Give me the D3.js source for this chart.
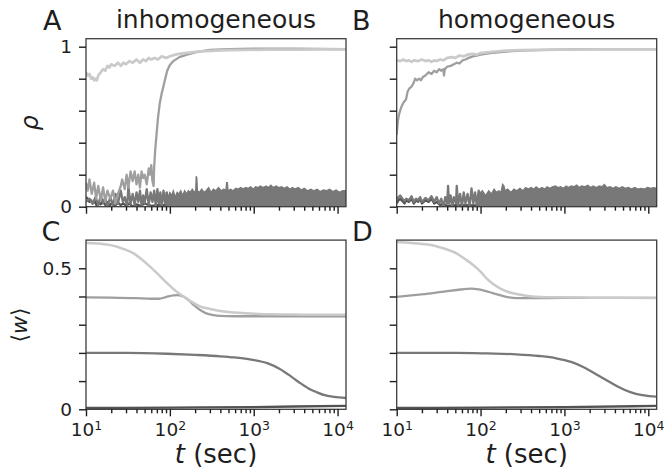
<!DOCTYPE html>
<html>
<head>
<meta charset="utf-8">
<script src="https://cdn.jsdelivr.net/npm/d3@7"></script>
<style>
  body { margin: 0; background: #fff; }
  svg { font-family: "DejaVu Sans", sans-serif; }
</style>
</head>
<body>
<div id="chart"></div>
<script>
// ---- data: [t (sec), value] ----

// rho, inhomogeneous
var rhoA_light = [[10,0.84],[10.5,0.82],[11,0.83],[11.5,0.80],[12,0.81],[12.5,0.79],[13,0.80],[13.5,0.79],[14,0.82],[15,0.84],[16,0.86],[17,0.85],[18,0.88],[19,0.87],[20,0.89],[22,0.88],[24,0.90],[26,0.88],[28,0.90],[30,0.89],[33,0.91],[36,0.90],[40,0.92],[44,0.90],[48,0.92],[52,0.91],[56,0.93],[60,0.92],[66,0.93],[72,0.92],[80,0.94],[90,0.93],[100,0.94],[115,0.95],[130,0.955],[150,0.96],[180,0.965],[220,0.97],[270,0.972],[350,0.975],[500,0.978],[800,0.98],[1500,0.982],[3000,0.982],[6000,0.983],[12600,0.983]];
var rhoA_mid = [[10,0.15],[10.5,0.1],[11,0.17],[11.7,0.08],[12.5,0.15],[13.2,0.05],[14,0.13],[15,0.04],[16,0.12],[17,0.03],[18,0.1],[19.5,0.05],[21,0.1],[22.5,0.02],[24,0.08],[26,0.13],[27,0.17],[29,0.11],[30.5,0.2],[32,0.12],[34,0.22],[36,0.16],[38,0.22],[40,0.14],[42,0.2],[44,0.12],[46,0.22],[48,0.18],[50,0.2],[53,0.14],[56,0.24],[58,0.2],[60,0.26],[62,0.16],[64,0.13],[65,0.25],[67,0.36],[69.6,0.46],[72,0.55],[76,0.65],[80,0.71],[83.6,0.75],[88,0.8],[93,0.85],[100,0.885],[110,0.91],[130,0.935],[160,0.95],[200,0.965],[300,0.98],[500,0.985],[1000,0.988],[3000,0.988],[12600,0.985]];
var rhoA_dark = [[10,0.03],[11,0.05],[12,0.02],[13,0.06],[14,0.01],[15,0.07],[16,0.02],[17,0.05],[18,0.0],[19.5,0.06],[21,0.01],[22.5,0.08],[24,0.02],[26,0.1],[27.5,0.03],[29,0.06],[31,0.0],[32,0.125],[34,0.02],[36,0.08],[38,0.01],[40,0.09],[42,0.03],[44,0.1],[46,0.0],[48,0.07],[50,0.02],[53,0.11],[56,0.01],[59,0.09],[62,0.03],[65,0.1],[68,0.0],[71,0.11],[74,0.02],[77,0.09],[80,0.0],[84,0.1],[88,0.02],[92,0.09],[96,0.0]];
var rhoA_band = [[90,0.08],[95,0.06],[100,0.09],[105,0.07],[110,0.1],[116,0.06],[122,0.09],[128,0.08],[135,0.1],[142,0.07],[150,0.1],[158,0.08],[166,0.1],[175,0.09],[185,0.11],[195,0.09],[203,0.1],[206,0.19],[210,0.18],[213,0.1],[225,0.09],[240,0.11],[255,0.09],[270,0.1],[290,0.12],[310,0.09],[330,0.11],[355,0.1],[380,0.12],[410,0.1],[440,0.11],[465,0.1],[475,0.15],[485,0.15],[495,0.1],[530,0.11],[570,0.1],[610,0.115],[650,0.11],[700,0.12],[750,0.11],[800,0.12],[860,0.115],[920,0.125],[990,0.11],[1050,0.125],[1130,0.12],[1200,0.13],[1300,0.12],[1400,0.13],[1500,0.12],[1600,0.135],[1700,0.12],[1850,0.13],[2000,0.12],[2150,0.125],[2300,0.115],[2500,0.125],[2700,0.11],[2900,0.12],[3100,0.11],[3400,0.12],[3700,0.105],[4000,0.115],[4400,0.1],[4800,0.11],[5200,0.1],[5700,0.11],[6200,0.095],[6800,0.105],[7400,0.1],[8000,0.11],[8800,0.095],[9600,0.105],[10500,0.09],[11500,0.1],[12600,0.1]];
var rhoA_darkest = [[10,0.06],[10.5,0.05],[11,0.03],[11.5,0.04],[12,0.02],[12.7,0.035],[13.3,0.01],[14,0.03],[15,0.015],[16,0.04],[17,0.01],[18,0.03],[19,0.005],[20,0.02],[22,0.005],[24,0.025],[26,0.01],[28,0.02],[30,0.005],[33,0.02],[36,0.0],[40,0.015],[45,0.005],[50,0.02],[60,0.005],[70,0.01],[100,0.01],[300,0.01],[1000,0.012],[12600,0.012]];

// rho, homogeneous
var rhoB_light = [[10,0.915],[11,0.91],[12,0.92],[13,0.91],[14,0.915],[15,0.905],[16,0.915],[18,0.91],[20,0.92],[22,0.91],[24,0.915],[26,0.905],[28,0.915],[30,0.91],[33,0.92],[36,0.915],[40,0.93],[45,0.935],[50,0.93],[56,0.945],[63,0.94],[70,0.95],[80,0.955],[90,0.95],[100,0.96],[120,0.965],[150,0.97],[200,0.975],[300,0.978],[500,0.98],[1000,0.982],[3000,0.983],[12600,0.983]];
var rhoB_mid = [[10,0.45],[10.3,0.53],[10.7,0.58],[11.3,0.62],[12,0.65],[12.9,0.67],[13.5,0.72],[14.2,0.74],[15,0.75],[15.8,0.77],[16.6,0.8],[17.5,0.79],[18.5,0.8],[19.5,0.79],[20.5,0.81],[22,0.82],[24,0.84],[26,0.83],[28,0.85],[30,0.84],[32,0.86],[34,0.85],[36,0.86],[36.6,0.82],[37.5,0.86],[40,0.875],[44,0.88],[48,0.89],[52,0.9],[56,0.895],[61,0.915],[66,0.92],[72,0.93],[81,0.94],[90,0.945],[100,0.95],[130,0.96],[200,0.97],[300,0.975],[600,0.98],[1500,0.985],[12600,0.985]];
var rhoB_dark = [[10,0.04],[10.5,0.06],[11,0.07],[11.7,0.05],[12.4,0.035],[13,0.05],[14,0.04],[15,0.065],[16,0.03],[17,0.05],[18,0.04],[19,0.06],[20,0.03],[22,0.055],[24,0.04],[26,0.065],[28,0.03],[30,0.06],[32,0.02],[34,0.05],[36,0.0],[38,0.06],[40,0.02],[41,0.13],[42,0.02],[44,0.07],[46,0.0],[48,0.06],[51,0.02],[52,0.13],[54,0.01],[57,0.08],[60,0.0],[63,0.09],[66,0.02],[70,0.08],[74,0.0],[78,0.115],[82,0.02],[86,0.09],[90,0.01],[95,0.1],[100,0.02]];
var rhoB_band = [[95,0.08],[105,0.1],[115,0.07],[125,0.1],[135,0.08],[145,0.11],[155,0.09],[165,0.1],[175,0.09],[183,0.14],[190,0.13],[196,0.1],[210,0.11],[230,0.09],[250,0.11],[270,0.1],[295,0.115],[320,0.1],[345,0.12],[370,0.11],[400,0.12],[430,0.11],[460,0.125],[500,0.11],[540,0.12],[580,0.11],[620,0.125],[670,0.115],[720,0.125],[780,0.13],[840,0.12],[900,0.125],[970,0.115],[1050,0.13],[1120,0.12],[1200,0.13],[1300,0.125],[1400,0.135],[1500,0.12],[1600,0.13],[1750,0.125],[1900,0.135],[2050,0.12],[2200,0.13],[2400,0.12],[2600,0.13],[2800,0.125],[3000,0.14],[3200,0.12],[3500,0.125],[3800,0.115],[4100,0.125],[4500,0.115],[4900,0.125],[5300,0.115],[5800,0.12],[6300,0.11],[6900,0.12],[7500,0.11],[8200,0.115],[9000,0.11],[9800,0.12],[10700,0.115],[11600,0.12],[12600,0.115]];
var rhoB_darkest = [[10,0.02],[10.5,0.04],[11,0.05],[11.7,0.035],[12.4,0.02],[13,0.04],[14,0.03],[15,0.05],[16,0.02],[17,0.04],[18,0.03],[19,0.05],[20,0.02],[22,0.04],[24,0.03],[26,0.05],[28,0.02],[30,0.03],[33,0.01],[36,0.02],[40,0.005],[50,0.01],[100,0.008],[1000,0.01],[12600,0.012]];

// <w>, inhomogeneous
var wC_light = [[10,0.59],[14,0.588],[19,0.583],[26,0.572],[37,0.553],[46,0.532],[58,0.506],[74,0.476],[93,0.447],[117,0.42],[147,0.399],[185,0.38],[233,0.364],[300,0.356],[369,0.35],[580,0.343],[900,0.34],[1475,0.337],[3000,0.336],[6000,0.335],[12600,0.335]];
var wC_mid = [[10,0.397],[20,0.396],[40,0.394],[60,0.392],[74,0.392],[90,0.398],[110,0.404],[125,0.405],[147,0.399],[170,0.385],[192,0.37],[230,0.352],[272,0.34],[330,0.334],[392,0.331],[600,0.33],[1000,0.33],[3000,0.33],[12600,0.33]];
var wC_dark = [[10,0.2],[30,0.2],[93,0.197],[200,0.193],[400,0.188],[580,0.184],[900,0.177],[1475,0.163],[2000,0.145],[2800,0.116],[3500,0.095],[4500,0.074],[5700,0.06],[7000,0.05],[9000,0.044],[12600,0.04]];
var wC_darkest = [[10,0.005],[100,0.006],[1000,0.008],[3000,0.01],[12600,0.012]];

// <w>, homogeneous
var wD_light = [[10,0.593],[15,0.59],[20,0.586],[25.6,0.583],[35,0.572],[51.6,0.553],[65,0.533],[81.6,0.512],[100,0.488],[117,0.465],[140,0.445],[170,0.429],[210,0.417],[267,0.409],[350,0.403],[462,0.399],[800,0.397],[2000,0.396],[12600,0.395]];
var wD_mid = [[10,0.399],[15,0.404],[25.6,0.411],[40,0.419],[52,0.423],[78,0.428],[95,0.425],[113,0.42],[140,0.412],[170,0.405],[210,0.398],[267,0.394],[400,0.394],[1000,0.395],[12600,0.395]];
var wD_dark = [[10,0.2],[50,0.2],[120,0.198],[267,0.195],[500,0.189],[800,0.181],[1200,0.168],[1650,0.151],[2300,0.127],[3150,0.104],[4300,0.081],[6000,0.062],[8500,0.05],[12300,0.045],[12600,0.045]];
var wD_darkest = [[10,0.005],[100,0.006],[1000,0.008],[12600,0.012]];

var xMajor = [10, 100, 1000, 10000];
var rhoTicks = [0, 0.2, 0.4, 0.6, 0.8, 1];
var wTicks = [0, 0.1, 0.2, 0.3, 0.4, 0.5];
var rhoTickLabels = {0: "0", 1: "1"};
var wTickLabels = {0: "0", 0.5: "0.5"};

// ---- drawing ----
var col = {light: "#cacaca", mid: "#9f9f9f", dark: "#787878", darkest: "#535353"};
var ink = "#1e1e1e";

var svg = d3.select("#chart").append("svg")
    .attr("width", 665)
    .attr("height", 473);

// minor tick positions 2..9 per decade
var xMinor = [];
[10, 100, 1000, 10000].forEach(function(b) {
  for (var k = 2; k <= 9; k++) if (b * k <= 12600) xMinor.push(b * k);
});

var clipId = 0;

function panel(p) {
  var x = d3.scaleLog().domain([10, 12600]).range([p.left, p.right]);
  var y = d3.scaleLinear().domain([0, p.ymax]).range([p.bottom, p.bottom - p.ypx * p.ymax]);
  var top = y(p.ymax);

  var g = svg.append("g");
  clipId++;
  svg.append("clipPath").attr("id", "clip" + clipId)
    .append("rect").attr("x", p.left).attr("y", top)
    .attr("width", p.right - p.left).attr("height", p.bottom - top);

  var plot = g.append("g").attr("clip-path", "url(#clip" + clipId + ")");
  var line = d3.line().x(function(d) { return x(d[0]); }).y(function(d) { return y(d[1]); });
  var smooth = d3.line().curve(d3.curveMonotoneX)
      .x(function(d) { return x(d[0]); }).y(function(d) { return y(d[1]); });
  var band = d3.area().x(function(d) { return x(d[0]); })
      .y0(y(0)).y1(function(d) { return y(d[1]); });

  p.series.forEach(function(s) {
    if (s.band) {
      plot.append("path").datum(s.band)
        .attr("d", band).attr("fill", s.color).attr("stroke", s.color).attr("stroke-width", 1.2);
    }
    if (s.data) {
      plot.append("path").datum(s.data)
        .attr("d", s.smooth ? smooth : line)
        .attr("fill", "none").attr("stroke", s.color)
        .attr("stroke-width", s.width || 2.3)
        .attr("stroke-linejoin", "round");
    }
  });

  // frame
  g.append("rect").attr("x", p.left).attr("y", top)
    .attr("width", p.right - p.left).attr("height", p.bottom - top)
    .attr("fill", "none").attr("stroke", "#3c3c3c").attr("stroke-width", 1.3);

  // x axis
  var gx = g.append("g").attr("transform", "translate(0," + p.bottom + ")");
  gx.call(d3.axisBottom(x).tickValues(xMajor).tickSize(7).tickPadding(7)
      .tickFormat(p.xlab ? function(d) { return "10"; } : function() { return ""; }));
  gx.append("g").call(d3.axisBottom(x).tickValues(xMinor).tickSize(4).tickFormat(""))
    .select(".domain").remove();
  gx.selectAll(".domain").remove();
  gx.selectAll("line").attr("stroke", ink).attr("stroke-width", 1.4);
  if (p.xlab) {
    gx.selectAll(".tick text").each(function(d) {
      var t = d3.select(this);
      if (!t.text()) return;
      t.text("");
      t.append("tspan").text("10");
      t.append("tspan").attr("dy", "-0.48em").attr("font-size", "12.5px")
        .text(Math.round(Math.log10(d)));
    });
    gx.selectAll("text").attr("fill", ink).attr("font-size", "18.5px")
      .attr("font-family", "DejaVu Sans");
    g.append("text")
      .attr("x", (p.left + p.right) / 2).attr("y", 463)
      .attr("text-anchor", "middle").attr("font-size", "26px").attr("fill", ink)
      .call(function(t) {
        t.append("tspan").attr("font-style", "italic").text("t");
        t.append("tspan").text(" (sec)");
      });
  }

  // y axis
  var gy = g.append("g").attr("transform", "translate(" + p.left + ",0)");
  gy.call(d3.axisLeft(y).tickValues(p.yticks).tickSize(7).tickPadding(7)
      .tickFormat(function(d) { return p.ylabels ? (p.ylabels[d] || "") : ""; }));
  gy.select(".domain").remove();
  gy.selectAll("line").attr("stroke", ink).attr("stroke-width", 1.4);
  gy.selectAll("text").attr("fill", ink).attr("font-size", "18.5px")
    .attr("font-family", "DejaVu Sans");

  // panel letter and title
  svg.append("text").attr("x", p.letterX).attr("y", p.letterY)
    .attr("font-size", "27px").attr("fill", ink).text(p.letter);
  if (p.title) {
    svg.append("text").attr("x", (p.left + p.right) / 2).attr("y", 28)
      .attr("text-anchor", "middle").attr("font-size", "25px").attr("fill", ink)
      .text(p.title);
  }
  return {x: x, y: y};
}

var colL = 86, colR = 346, col2L = 396.7, col2R = 656.7;

panel({left: colL, right: colR, bottom: 206.7, ymax: 1.05, ypx: 160,
  yticks: rhoTicks, ylabels: rhoTickLabels, xlab: false,
  letter: "A", letterX: 43, letterY: 30, title: "inhomogeneous",
  series: [
    {data: rhoA_darkest, color: col.darkest},
    {data: rhoA_dark, band: rhoA_band, color: col.dark},
    {data: rhoA_mid, color: col.mid},
    {data: rhoA_light, color: col.light, width: 2.7}
  ]});

panel({left: col2L, right: col2R, bottom: 206.7, ymax: 1.05, ypx: 160,
  yticks: rhoTicks, ylabels: null, xlab: false,
  letter: "B", letterX: 352, letterY: 30, title: "homogeneous",
  series: [
    {data: rhoB_darkest, color: col.darkest},
    {data: rhoB_dark, band: rhoB_band, color: col.dark},
    {data: rhoB_mid, color: col.mid},
    {data: rhoB_light, color: col.light, width: 2.7}
  ]});

panel({left: colL, right: colR, bottom: 409.3, ymax: 0.6, ypx: 282,
  yticks: wTicks, ylabels: wTickLabels, xlab: true,
  letter: "C", letterX: 41.5, letterY: 241,
  series: [
    {data: wC_darkest, color: col.darkest, smooth: true},
    {data: wC_dark, color: col.dark, smooth: true},
    {data: wC_mid, color: col.mid, smooth: true},
    {data: wC_light, color: col.light, smooth: true, width: 2.5}
  ]});

panel({left: col2L, right: col2R, bottom: 409.3, ymax: 0.6, ypx: 282,
  yticks: wTicks, ylabels: null, xlab: true,
  letter: "D", letterX: 352, letterY: 241,
  series: [
    {data: wD_darkest, color: col.darkest, smooth: true},
    {data: wD_dark, color: col.dark, smooth: true},
    {data: wD_mid, color: col.mid, smooth: true},
    {data: wD_light, color: col.light, smooth: true, width: 2.5}
  ]});

// y-axis labels
svg.append("text").attr("transform", "translate(38,123) rotate(-90)")
  .attr("text-anchor", "middle").attr("font-size", "24px").attr("font-style", "italic")
  .attr("fill", ink).text("ρ");

svg.append("text").attr("transform", "translate(27,325) rotate(-90)")
  .attr("text-anchor", "middle").attr("font-size", "22px").attr("fill", ink)
  .call(function(t) {
    t.append("tspan").text("⟨");
    t.append("tspan").attr("font-style", "italic").text("w");
    t.append("tspan").text("⟩");
  });
</script>
</body>
</html>
